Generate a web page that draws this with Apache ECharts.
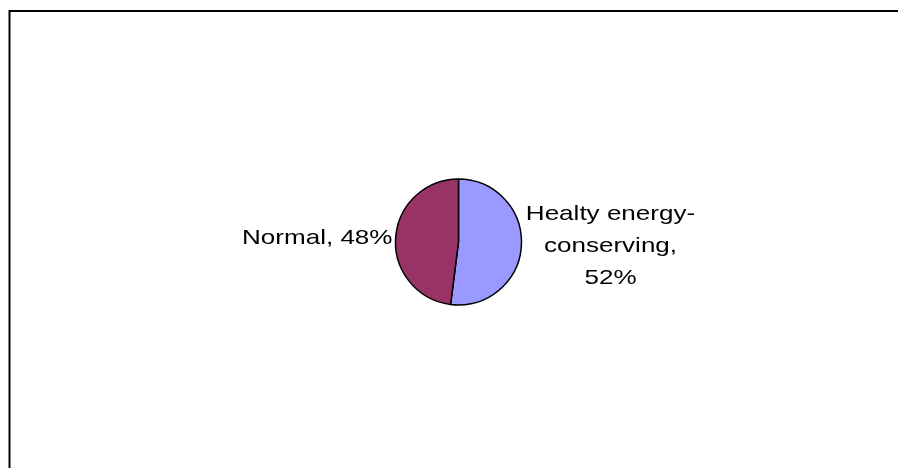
<!DOCTYPE html>
<html>
<head>
<meta charset="utf-8">
<script src="https://cdn.jsdelivr.net/npm/echarts@6/dist/echarts.min.js"></script>
<style>
  html, body { margin: 0; padding: 0; background: #fff; }
  #chart { width: 898px; height: 468px; }
</style>
</head>
<body>
<div id="chart"></div>
<script>
// Share of households by type
const categories = ['Healty energy-conserving', 'Normal'];
const shares = [52, 48];
const sliceColors = ['#9999FF', '#993366'];

// pie geometry
const CX = 458.5, CY = 242, R = 63;
// label type: a slightly widened sans face
const FONT = '21px "Liberation Sans", Arial, sans-serif';
const WIDEN = 1.24;

const chart = echarts.init(document.getElementById('chart'), null, { renderer: 'canvas' });

const pieData = categories.map((name, i) => ({
  name: name,
  value: shares[i],
  itemStyle: { color: sliceColors[i] }
}));

// label texts built from the same data as the slices
const rightLabel = categories[0].replace('-', '-\n') + ',\n' + shares[0] + '%';
const leftLabel = categories[1] + ', ' + shares[1] + '%';

chart.setOption({
  backgroundColor: '#ffffff',
  animation: false,
  graphic: [
    {
      type: 'rect',
      shape: { x: 9.5, y: 11, width: 900, height: 470 },
      style: { fill: 'none', stroke: '#000', lineWidth: 2 },
      silent: true
    },
    {
      type: 'text',
      x: CX + R + 89, y: CY + 4,
      scaleX: WIDEN,
      style: {
        text: rightLabel, font: FONT, fill: '#000',
        textAlign: 'center', textVerticalAlign: 'middle', lineHeight: 32
      },
      silent: true
    },
    {
      type: 'text',
      x: CX - R - 3, y: CY - 4,
      scaleX: WIDEN,
      style: {
        text: leftLabel, font: FONT, fill: '#000',
        textAlign: 'right', textVerticalAlign: 'middle'
      },
      silent: true
    }
  ],
  series: [{
    type: 'pie',
    center: [CX, CY],
    radius: R,
    startAngle: 90,
    clockwise: true,
    data: pieData,
    itemStyle: { borderColor: '#000', borderWidth: 1.5 },
    label: { show: false },
    labelLine: { show: false },
    emphasis: { disabled: true }
  }]
});
</script>
</body>
</html>
